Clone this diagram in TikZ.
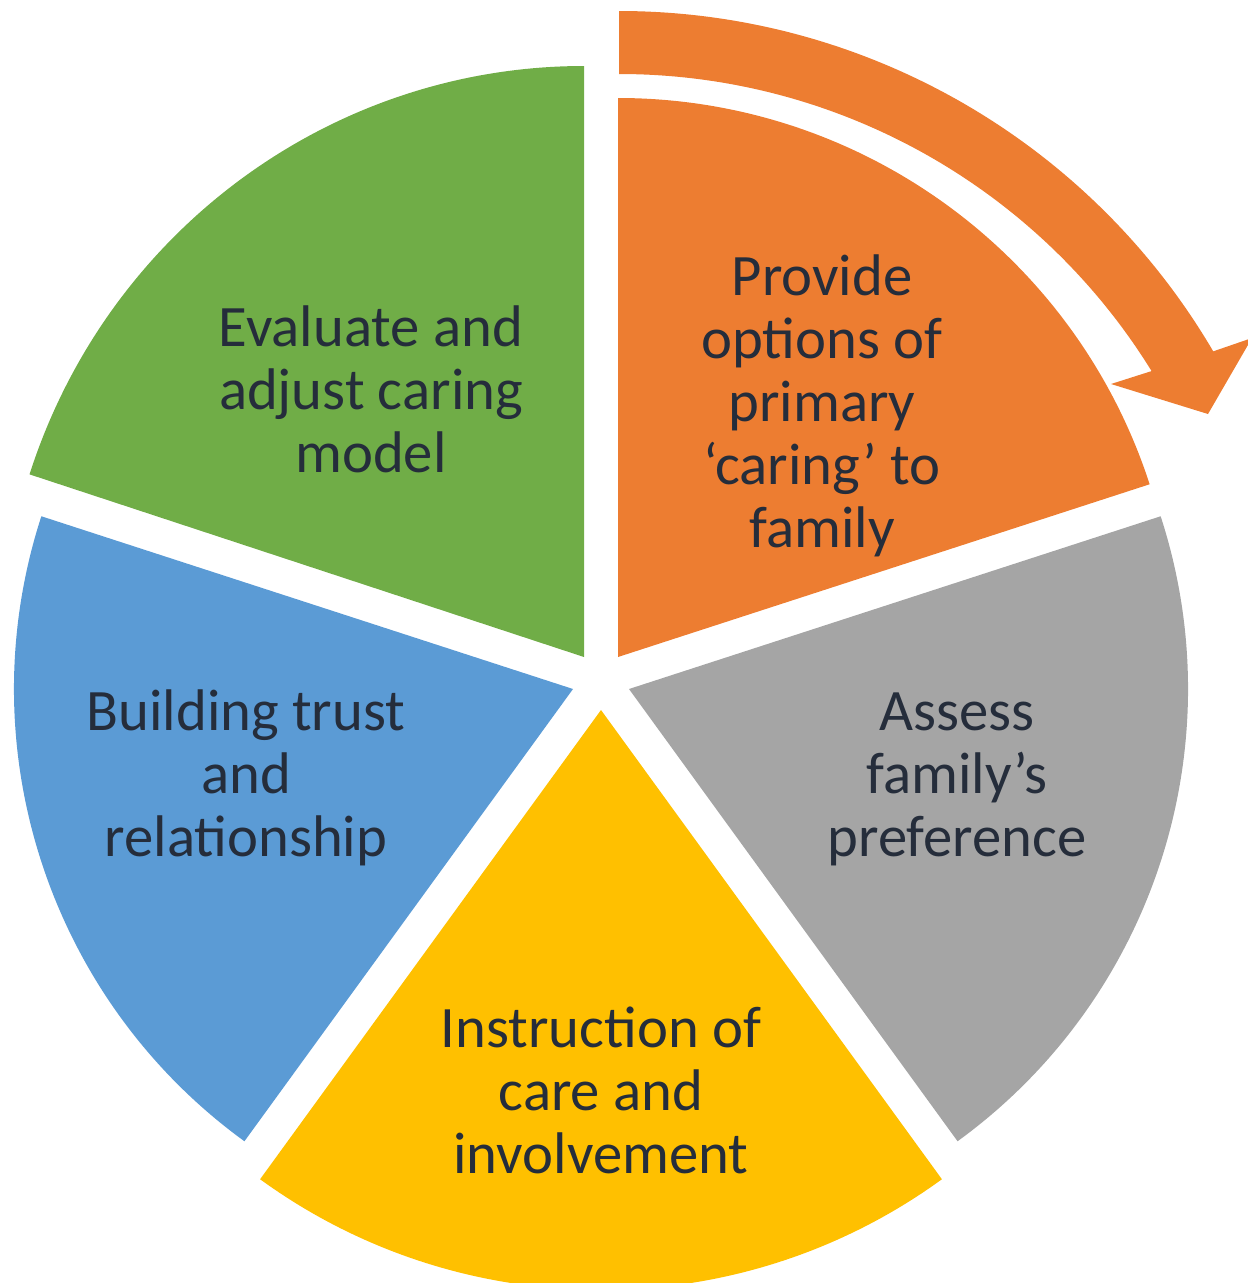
\documentclass[tikz,border=0pt]{standalone}
\usepackage{fontspec}
\setmainfont{Carlito}
\usetikzlibrary{calc}
\definecolor{cgreen}{HTML}{70AD47}
\definecolor{corange}{HTML}{ED7D31}
\definecolor{cgray}{HTML}{A5A5A5}
\definecolor{cyellow}{HTML}{FFC000}
\definecolor{cblue}{HTML}{5B9BD5}
\definecolor{ctext}{HTML}{252D3B}
\newcommand{\lbl}[1]{\begin{tabular}[t]{@{}c@{}}#1\end{tabular}}
\begin{document}
\begin{tikzpicture}[x=1pt,y=1pt,
  label/.style={anchor=base,inner sep=0pt,text=ctext,
    font=\fontsize{58.7pt}{63pt}\selectfont}]
\useasboundingbox (0,0) rectangle (1248,-1283);
\clip (0,0) rectangle (1248,-1283);
% sector apexes
\coordinate (og) at (584,-657);
\coordinate (oo) at (618,-657);
\coordinate (ob) at (573,-689);
\coordinate (oa) at (629,-689);
\coordinate (oy) at (601,-710);
% five sectors
\fill[cgreen] (og) -- ++(90:591)
  arc[start angle=90,end angle=162,x radius=583,y radius=591] -- cycle;
\fill[corange] (oo) -- ++(90:559)
  arc[start angle=90,end angle=18,radius=559] -- cycle;
\fill[cgray] (oa) -- ++(18:559)
  arc[start angle=18,end angle=-54,radius=559] -- cycle;
\fill[cyellow] (oy) -- ++(-54:580)
  arc[start angle=-54,end angle=-126,radius=580] -- cycle;
\fill[cblue] (ob) -- ++(234:559)
  arc[start angle=234,end angle=162,radius=559] -- cycle;
% curved arrow
\coordinate (ac) at (619,-700);
\fill[corange] (ac) ++(90:689)
  arc[start angle=90,end angle=30.4,radius=689]
  -- (1252,-338) -- (1208,-414) -- (1111,-384)
  -- ($(ac)+(31.7:626)$)
  arc[start angle=31.7,end angle=90,radius=626] -- cycle;
% labels
\node[label] (tg) at (371,-346) {\lbl{Evaluate and\\adjust caring\\model}};
\node[label] (to) at (822,-295) {\lbl{Provide\\options of\\primary\\‘caring’ to\\family}};
\node[label] (ta) at (957,-730) {\lbl{Assess\\family’s\\preference}};
\node[label] (tb) at (246,-730) {\lbl{Building trust\\and\\relationship}};
\node[label] (ty) at (601,-1047) {\lbl{Instruction of\\care and\\involvement}};
\end{tikzpicture}
\end{document}
